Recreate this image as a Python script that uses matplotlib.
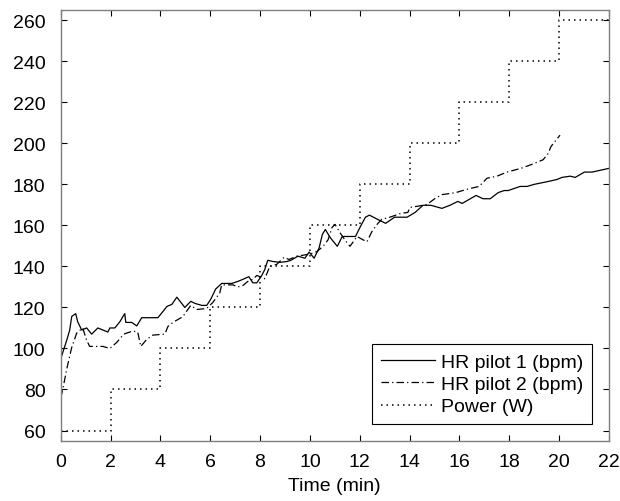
import numpy as np
import matplotlib
matplotlib.use('Agg')
import matplotlib.pyplot as plt

plt.rcParams['font.family'] = ['Liberation Sans', 'DejaVu Sans']

# HR pilot 1 (bpm)
t1 = [0.0, 0.24, 0.36, 0.44, 0.6, 0.68, 0.84, 1.04, 1.24, 1.49, 1.69, 1.89, 1.97, 2.17,
      2.37, 2.57, 2.61, 2.85, 3.05, 3.25, 3.9, 4.1, 4.26, 4.46, 4.66, 4.98, 5.22, 5.38,
      5.66, 5.86, 6.02, 6.22, 6.46, 6.87, 7.11, 7.31, 7.55, 7.71, 7.87, 8.07, 8.19, 8.31,
      8.51, 8.8, 9.08, 9.24, 9.52, 9.8, 9.97, 10.17, 10.37, 10.5, 10.62, 10.82, 11.1,
      11.3, 11.83, 12.03, 12.23, 12.39, 12.71, 13.04, 13.4, 13.9, 14.22, 14.54, 14.86,
      15.3, 15.62, 15.94, 16.11, 16.67, 16.95, 17.24, 17.56, 17.8, 17.96, 18.44, 18.72,
      19.0, 19.4, 19.6, 19.92, 20.12, 20.45, 20.65, 21.02, 21.33, 22.0]
hr1 = [95, 104, 109, 115.6, 117, 113, 109, 110, 107, 110, 109, 108, 110, 110,
       113, 117, 112.7, 112.7, 111, 115, 115, 118, 120.5, 121.5, 125, 120, 123, 122,
       121, 121, 124, 129, 131.7, 131.7, 132.7, 133.7, 135, 132, 132, 135.6, 138.5, 143,
       142.4, 142, 142.4, 143, 145, 144, 147, 144, 149, 155.6, 158, 154, 149.8,
       154.6, 154.6, 159.5, 164, 165, 163, 161, 164, 164, 166.3, 169.8, 169.8,
       168.3, 169.8, 171.7, 170.7, 174.6, 173, 173, 176, 177, 177, 179, 179,
       180, 181, 181.5, 182.4, 183.4, 184, 183.4, 186, 186, 187.8]

# HR pilot 2 (bpm)
t2 = [0.0, 0.08, 0.24, 0.44, 0.64, 0.88, 1.04, 1.16, 1.69, 1.97, 2.25, 2.53, 2.89, 3.09,
      3.21, 3.45, 3.69, 4.18, 4.3, 4.5, 4.9, 5.1, 5.22, 5.46, 5.86, 6.1, 6.38, 6.46,
      6.91, 7.11, 7.31, 7.51, 7.71, 7.87, 8.19, 8.39, 8.67, 8.96, 9.16, 9.48, 10.0, 10.29,
      10.53, 10.73, 10.89, 11.01, 11.2, 11.4, 11.61, 11.89, 12.13, 12.29, 12.49, 12.73,
      12.89, 13.21, 13.69, 13.93, 14.02, 14.3, 14.7, 15.01, 15.3, 15.86, 16.3, 16.79,
      17.11, 17.51, 17.91, 18.47, 18.92, 19.36, 19.56, 19.68, 20.04]
hr2 = [76, 80, 90, 100.5, 107.5, 110, 104, 101, 101, 100, 103, 107, 108.5, 108,
       101, 104.4, 106.5, 107, 110.7, 112.7, 115.5, 119, 121, 119, 119.5, 122.4, 127, 131,
       131, 130, 130.7, 132.7, 133.7, 135.6, 134, 140, 141, 144.4, 143.4, 145, 146, 147.3,
       149.8, 153, 159, 160.5, 156.6, 153, 149.8, 154.6, 153, 152, 157, 161,
       163, 164, 166, 166.3, 168.8, 169.3, 170.2, 173, 175, 176, 177.6, 179,
       183, 184, 186, 187.8, 189.8, 192, 195, 198.5, 204]

# Power (W)
t_pow = [0, 2, 4, 6, 8, 10, 12, 14, 16, 18, 20, 22]
power = [60, 80, 100, 120, 140, 160, 180, 200, 220, 240, 260, 260]

fig = plt.figure(figsize=(6.2, 5.02), dpi=100)
ax = fig.add_axes([0.098, 0.12, 0.884, 0.858])

ax.plot(t1, hr1, '-', color='black', lw=0.9, label='HR pilot 1 (bpm)')
ax.plot(t2, hr2, color='black', lw=0.9, dashes=(6, 2.5, 1, 2.5), label='HR pilot 2 (bpm)')
ax.plot(t_pow, power, color='black', lw=1.1, dashes=(1, 2.6), drawstyle='steps-post',
        label='Power (W)')

ax.set_xlim(0, 22)
ax.set_ylim(55, 265)
ax.set_xticks(np.arange(0, 23, 2))
ax.set_yticks(np.arange(60, 261, 20))
ax.tick_params(direction='in', length=4, top=True, right=True, labelsize=14, width=0.8)
ax.tick_params(axis='y', pad=11)
ax.tick_params(axis='x', pad=9)
for s in ax.spines.values():
    s.set_color('#7f7f7f')
    s.set_linewidth(1.0)
ax.set_xlabel('Time (min)', fontsize=14, labelpad=5)

leg = ax.legend(loc='lower right', fontsize=14, fancybox=False, edgecolor='black',
                framealpha=1, handlelength=2.8, borderaxespad=0.85, labelspacing=0.25,
                handletextpad=0.3, borderpad=0.45)
leg.get_frame().set_linewidth(0.8)

fig.savefig('out.png', dpi=100)
